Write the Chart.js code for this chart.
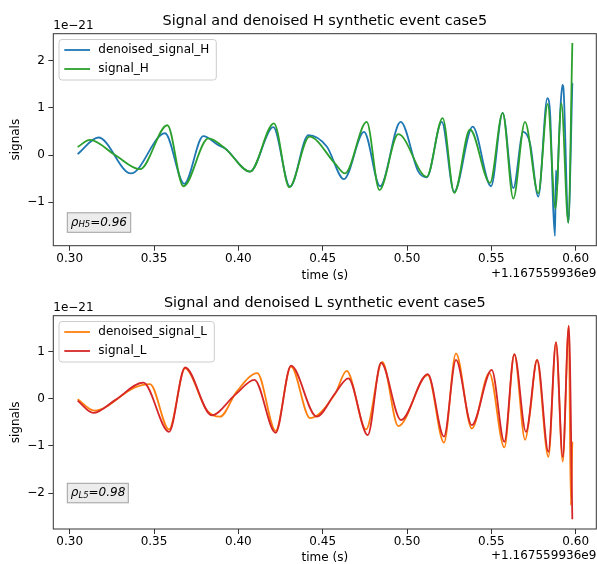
<!DOCTYPE html>
<html>
<head>
<meta charset="utf-8">
<script src="https://cdn.jsdelivr.net/npm/chart.js@4.4.1/dist/chart.umd.min.js"></script>
<style>
    body { margin: 0; background: #fff; }
    .panel { position: absolute; left: 0; width: 597px; height: 282px; }
</style>
</head>
<body>
<div class="panel" style="top:0"><canvas id="chartH" width="597" height="282"></canvas></div>
<div class="panel" style="top:282px"><canvas id="chartL" width="597" height="282"></canvas></div>
<script>
// Signal vs denoised signal, H and L detectors (values in units of 1e-21)

const xTicks = [0.30, 0.35, 0.40, 0.45, 0.50, 0.55, 0.60];
const yTicksH = [-1, 0, 1, 2];
const yTicksL = [-2, -1, 0, 1];

// H detector - denoised
const timeDenoisedH = [0.3047, 0.3170, 0.3363, 0.3565, 0.3679, 0.3792, 0.3881, 0.3921, 0.4069, 0.4207,
    0.4306, 0.4415, 0.4524, 0.4626, 0.4745, 0.4840, 0.4962, 0.5067, 0.5117, 0.5206,
    0.5279, 0.5389, 0.5498, 0.5567, 0.5630, 0.5689, 0.5729, 0.5778, 0.5832, 0.5848,
    0.5867, 0.5877, 0.5883, 0.5889, 0.5899, 0.5911, 0.5921, 0.5927, 0.5956, 0.5980];
const valDenoisedH = [0.02, 0.37, -0.39, 0.46, -0.61, 0.40, 0.21, 0.14, -0.35, 0.59,
    -0.67, 0.42, 0.18, -0.51, 0.49, -0.66, 0.70, -0.35, -0.47, 0.70,
    -0.78, 0.60, -0.66, 0.89, -0.70, 0.49, 0.25, -0.88, 1.20, 0.89,
    -1.16, -1.71, -0.32, -0.74, 0.18, 1.09, 1.48, 1.42, -1.43, 1.52];

// H detector - signal
const timeSignalH = [0.3047, 0.3120, 0.3269, 0.3417, 0.3579, 0.3674, 0.3822, 0.3921, 0.4069, 0.4211,
    0.4302, 0.4421, 0.4573, 0.4632, 0.4761, 0.4836, 0.4948, 0.5117, 0.5211, 0.5280,
    0.5373, 0.5492, 0.5567, 0.5630, 0.5699, 0.5778, 0.5834, 0.5880, 0.5915, 0.5956, 0.5980];
const valSignalH = [0.17, 0.32, 0.00, -0.30, 0.63, -0.66, 0.35, 0.14, -0.35, 0.67,
    -0.68, 0.39, -0.18, -0.39, 0.70, -0.74, 0.44, -0.46, 0.78, -0.80,
    0.54, -0.59, 0.89, -0.92, 0.70, -0.81, 1.08, -1.13, 1.09, -1.43, 2.37];

// L detector - denoised
const timeDenoisedL = [0.3047, 0.3146, 0.3387, 0.3476, 0.3589, 0.3684, 0.3812, 0.3891, 0.3990, 0.4112,
    0.4221, 0.4312, 0.4425, 0.4573, 0.4642, 0.4757, 0.4853, 0.4948, 0.5123, 0.5219,
    0.5290, 0.5384, 0.5488, 0.5577, 0.5636, 0.5700, 0.5729, 0.5769, 0.5838, 0.5883,
    0.5923, 0.5959, 0.5971, 0.5980];
const valDenoisedL = [-0.01, -0.25, 0.24, 0.31, -0.65, 0.64, -0.24, -0.38, 0.15, 0.54,
    -0.68, 0.68, -0.41, 0.10, 0.59, -0.65, 0.78, -0.58, 0.50, -0.93,
    0.96, -0.63, 0.54, -1.03, 0.94, -0.87, -0.30, 0.82, -1.23, 1.19,
    -1.33, 1.54, -2.25, -0.91];

// L detector - signal
const timeSignalL = [0.3047, 0.3140, 0.3269, 0.3436, 0.3589, 0.3684, 0.3842, 0.3980, 0.4095, 0.4221,
    0.4312, 0.4464, 0.4573, 0.4652, 0.4767, 0.4846, 0.4964, 0.5123, 0.5219, 0.5290,
    0.5384, 0.5502, 0.5577, 0.5636, 0.5705, 0.5772, 0.5838, 0.5883, 0.5923, 0.5959, 0.5980];
const valSignalL = [-0.04, -0.30, -0.03, 0.34, -0.70, 0.66, -0.35, 0.08, 0.40, -0.72,
    0.70, -0.38, 0.11, 0.43, -0.77, 0.76, -0.45, 0.52, -0.80, 0.82,
    -0.56, 0.61, -0.91, 0.94, -0.70, 0.82, -1.12, 1.19, -1.23, 1.54, -2.55];

const FONT = 'DejaVu Sans';
const FS = 12;

function toPoints(times, values) {
    return times.map((t, i) => ({ x: t, y: values[i] }));
}

function minusSign(v) {
    return v < 0 ? '\u2212' + Math.abs(v) : String(v);
}

// frame, title, offset texts, legend and rho box, drawn like matplotlib
const decorPlugin = {
    id: 'decor',
    afterDraw(chart, args, opts) {
        const ctx = chart.ctx;
        const area = chart.chartArea;
        ctx.save();

        ctx.strokeStyle = '#333';
        ctx.lineWidth = 1;
        ctx.strokeRect(area.left, area.top, area.right - area.left, area.bottom - area.top);

        ctx.fillStyle = '#000';
        ctx.textBaseline = 'middle';
        ctx.font = '14.4px "' + FONT + '"';
        ctx.textAlign = 'center';
        ctx.fillText(opts.title, (area.left + area.right) / 2, 21);

        ctx.font = FS + 'px "' + FONT + '"';
        ctx.textAlign = 'left';
        ctx.fillText('1e\u221221', area.left, 26);
        ctx.textAlign = 'right';
        ctx.fillText('+1.167559936e9', area.right, opts.offsetY);

        // legend
        const lx = 59, ly = 39.5, lw = opts.legendWidth, lh = 40.5;
        ctx.beginPath();
        ctx.roundRect(lx, ly, lw, lh, 3);
        ctx.fillStyle = 'rgba(255,255,255,0.8)';
        ctx.fill();
        ctx.strokeStyle = '#cccccc';
        ctx.stroke();
        chart.data.datasets.forEach((ds, i) => {
            const y = 50 + i * 19;
            ctx.strokeStyle = ds.borderColor;
            ctx.lineWidth = 1.8;
            ctx.beginPath();
            ctx.moveTo(64.3, y);
            ctx.lineTo(90, y);
            ctx.stroke();
            ctx.fillStyle = '#000';
            ctx.textAlign = 'left';
            ctx.font = FS + 'px "' + FONT + '"';
            ctx.fillText(ds.label, 98.3, y);
        });

        // rho annotation
        const bx = 67.3, by = opts.boxTop, bw = opts.boxWidth, bh = 19.5;
        ctx.fillStyle = '#ececec';
        ctx.fillRect(bx, by, bw, bh);
        ctx.strokeStyle = '#a0a0a0';
        ctx.lineWidth = 1;
        ctx.strokeRect(bx, by, bw, bh);
        const ty = by + bh / 2;
        ctx.fillStyle = '#000';
        ctx.textAlign = 'left';
        ctx.font = 'italic ' + FS + 'px "' + FONT + '"';
        let x = bx + 3.5;
        ctx.fillText('\u03c1', x, ty);
        x += ctx.measureText('\u03c1').width;
        ctx.font = 'italic 8.5px "' + FONT + '"';
        ctx.fillText(opts.rhoSub, x, ty + 2.5);
        x += ctx.measureText(opts.rhoSub).width;
        ctx.font = 'italic ' + FS + 'px "' + FONT + '"';
        ctx.fillText('=' + opts.rhoValue, x, ty);

        ctx.restore();
    }
};

function makeChart(id, panel) {
    const ctx = document.getElementById(id).getContext('2d');

    new Chart(ctx, {
        type: 'line',
        data: {
            datasets: [{
                label: panel.denoisedLabel,
                data: panel.denoised,
                borderColor: panel.denoisedColor,
                borderWidth: 1.8,
                pointRadius: 0,
                cubicInterpolationMode: 'monotone',
                order: 2
            }, {
                label: panel.signalLabel,
                data: panel.signal,
                borderColor: panel.signalColor,
                borderWidth: 1.8,
                pointRadius: 0,
                cubicInterpolationMode: 'monotone',
                order: 1
            }]
        },
        options: {
            responsive: false,
            animation: false,
            layout: {
                padding: { top: 33.7, right: 0.7, left: 0, bottom: 0 }
            },
            plugins: {
                legend: { display: false },
                tooltip: { enabled: false },
                decor: {
                    title: panel.title,
                    rhoSub: panel.rhoSub,
                    rhoValue: panel.rhoValue,
                    boxTop: panel.boxTop,
                    boxWidth: panel.boxWidth,
                    legendWidth: panel.legendWidth,
                    offsetY: panel.offsetY
                }
            },
            scales: {
                x: {
                    type: 'linear',
                    min: 0.29028,
                    max: 0.6122,
                    afterBuildTicks: (scale) => {
                        scale.ticks = xTicks.map(v => ({ value: v }));
                    },
                    afterFit: (scale) => {
                        scale.height = panel.xAxisHeight;
                    },
                    border: { display: false },
                    grid: {
                        drawOnChartArea: false,
                        tickLength: 5,
                        tickColor: '#333'
                    },
                    ticks: {
                        color: '#000',
                        padding: 1.1,
                        maxRotation: 0,
                        font: { family: FONT, size: FS },
                        callback: (value) => value.toFixed(2)
                    },
                    title: {
                        display: true,
                        text: 'time (s)',
                        color: '#000',
                        padding: { top: 0, bottom: 0 },
                        font: { family: FONT, size: FS, lineHeight: 1 }
                    }
                },
                y: {
                    min: panel.yMin,
                    max: panel.yMax,
                    afterBuildTicks: (scale) => {
                        scale.ticks = panel.yTicks.map(v => ({ value: v }));
                    },
                    afterFit: (scale) => {
                        scale.width = 53.3;
                    },
                    border: { display: false },
                    grid: {
                        drawOnChartArea: false,
                        tickLength: 5,
                        tickColor: '#333'
                    },
                    ticks: {
                        color: '#000',
                        padding: 3.3,
                        font: { family: FONT, size: FS },
                        callback: (value) => minusSign(value)
                    },
                    title: {
                        display: true,
                        text: 'signals',
                        color: '#000',
                        padding: { top: 8.8, bottom: 0 },
                        font: { family: FONT, size: FS }
                    }
                }
            }
        },
        plugins: [decorPlugin]
    });
}

makeChart('chartH', {
    title: 'Signal and denoised H synthetic event case5',
    denoisedLabel: 'denoised_signal_H',
    signalLabel: 'signal_H',
    denoised: toPoints(timeDenoisedH, valDenoisedH),
    signal: toPoints(timeSignalH, valSignalH),
    denoisedColor: '#1f77b4',
    signalColor: '#2ca02c',
    yMin: -1.917,
    yMax: 2.565,
    yTicks: yTicksH,
    xAxisHeight: 36.3,
    offsetY: 274,
    legendWidth: 157.3,
    rhoSub: 'H5',
    rhoValue: '0.96',
    boxTop: 212.8,
    boxWidth: 63.4
});

makeChart('chartL', {
    title: 'Signal and denoised L synthetic event case5',
    denoisedLabel: 'denoised_signal_L',
    signalLabel: 'signal_L',
    denoised: toPoints(timeDenoisedL, valDenoisedL),
    signal: toPoints(timeSignalL, valSignalL),
    denoisedColor: '#ff7f0e',
    signalColor: '#d62728',
    yMin: -2.755,
    yMax: 1.755,
    yTicks: yTicksL,
    xAxisHeight: 35,
    offsetY: 274,
    legendWidth: 155.3,
    rhoSub: 'L5',
    rhoValue: '0.98',
    boxTop: 201.3,
    boxWidth: 61
});
</script>
</body>
</html>
